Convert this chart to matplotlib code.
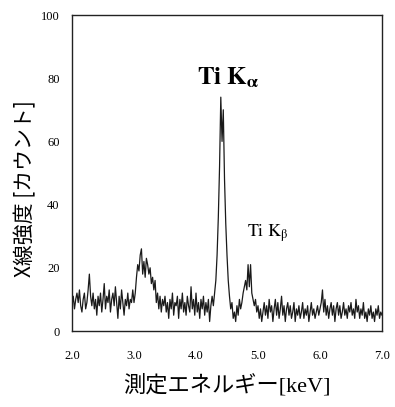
import numpy as np
import matplotlib
matplotlib.use("Agg")
import matplotlib.pyplot as plt

plt.rcParams['mathtext.fontset'] = 'stix'

# X-ray counts, one value per 0.02 keV channel from 2.00 to 7.00 keV
counts = [
    8, 11, 7, 10, 12, 9, 13, 8, 6, 10, 12, 7, 9, 13, 18, 11, 8, 12, 7, 10, 5, 11, 8, 12, 6,
    10, 15, 7, 11, 9, 13, 6, 10, 12, 8, 14, 9, 4, 11, 7, 13, 9, 5, 10, 8, 12, 7, 10, 9, 13,
    9, 12, 17, 21, 19, 24, 26, 18, 22, 17, 23, 21, 18, 20, 15, 17, 13, 16, 9, 12, 7, 11, 6, 10, 8,
    11, 6, 9, 4, 10, 7, 12, 5, 9, 8, 11, 4, 10, 7, 12, 6, 9, 5, 11, 8, 6, 14, 7, 10, 5,
    12, 6, 9, 4, 10, 7, 11, 5, 9, 6, 10, 3, 8, 11, 8, 12, 16, 24, 36, 52, 74, 60, 70, 48, 34,
    24, 16, 11, 7, 9, 4, 6, 3, 8, 5, 10, 7, 9, 12, 14, 16, 13, 21, 14, 21, 12, 10, 8, 10, 6,
    8, 4, 7, 3, 6, 9, 5, 8, 4, 10, 6, 8, 3, 7, 10, 5, 9, 4, 7, 11, 5, 8, 3, 7, 9,
    5, 8, 4, 6, 9, 3, 7, 5, 8, 4, 6, 9, 4, 7, 5, 8, 3, 6, 9, 5, 7, 4, 6, 8, 5,
    7, 9, 13, 6, 10, 5, 8, 4, 7, 9, 5, 8, 3, 7, 9, 5, 8, 4, 6, 9, 5, 7, 4, 8, 6,
    9, 5, 7, 4, 10, 6, 8, 4, 7, 5, 9, 4, 6, 3, 7, 5, 8, 4, 6, 3, 7, 5, 8, 4, 6,
    5,
]
e_start, e_end = 2.0, 7.0
energy = np.linspace(e_start, e_end, len(counts))

x_ticks = [2.0, 3.0, 4.0, 5.0, 6.0, 7.0]
x_ticklabels = ["2.0", "3.0", "4.0", "5.0", "6.0", "7.0"]
y_ticks = [0, 20, 40, 60, 80, 100]
y_ticklabels = ["0", "20", "40", "60", "80", "100"]

fig = plt.figure(figsize=(3.95, 4.07), dpi=100)
ax = fig.add_axes([72/395, 1-331/407, (382-72)/395, (331-15)/407])
ax.plot(energy, counts, color="#1a1a1a", lw=0.9)
ax.set_xlim(2.0, 7.0)
ax.set_ylim(0, 100)
ax.set_xticks(x_ticks)
ax.set_xticklabels(x_ticklabels)
ax.set_yticks(y_ticks)
ax.set_yticklabels(y_ticklabels)
ax.tick_params(axis="x", length=0, labelsize=9, pad=14)
ax.tick_params(axis="y", length=0, labelsize=9, pad=9)
for lab in ax.get_xticklabels() + ax.get_yticklabels():
    lab.set_fontfamily("Liberation Serif")
for sp in ax.spines.values():
    sp.set_linewidth(1.0)
    sp.set_color("#222222")

ax.set_ylabel("X線強度 [カウント]", family=["Noto Sans CJK JP", "DejaVu Sans"],
              fontsize=15)
ax.yaxis.set_label_coords(-36/310, 0.45)
ax.set_xlabel("測定エネルギー[keV]", family=["Liberation Serif", "Noto Sans CJK JP"],
              fontsize=16, labelpad=8)

ax.text(4.52, 80, r"$\mathbf{Ti\ K_{\alpha}}$", fontsize=18, ha="center", va="center")
ax.text(5.16, 31, r"$\mathrm{Ti\ K_{\beta}}$", fontsize=13, ha="center", va="center")

fig.savefig("out.png", dpi=100)
